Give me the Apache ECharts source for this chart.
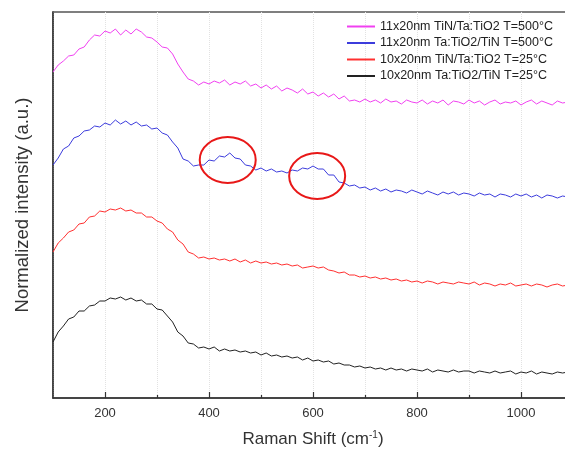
<!DOCTYPE html>
<html>
<head>
<meta charset="utf-8">
<script src="https://cdn.jsdelivr.net/npm/echarts@6/dist/echarts.min.js"></script>
<style>
  html, body { margin: 0; padding: 0; background: #fff; }
  #chart { width: 565px; height: 452px; }
</style>
</head>
<body>
<div id="chart"></div>
<script>
// Raman shift sample points (cm-1)
const ramanShift = [
  100, 110, 120, 130, 140, 150, 160, 170, 180, 190,
  200, 210, 220, 230, 240, 250, 260, 270, 280, 290,
  300, 310, 320, 330, 340, 350, 360, 370, 380, 390,
  400, 410, 420, 430, 440, 450, 460, 470, 480, 490,
  500, 510, 520, 530, 540, 550, 560, 570, 580, 590,
  600, 610, 620, 630, 640, 650, 660, 670, 680, 690,
  700, 710, 720, 730, 740, 750, 760, 770, 780, 790,
  800, 810, 820, 830, 840, 850, 860, 870, 880, 890,
  900, 910, 920, 930, 940, 950, 960, 970, 980, 990,
  1000, 1010, 1020, 1030, 1040, 1050, 1060, 1070, 1080, 1090
]

// 曲线数值（已做纵向偏移，任意单位）
const tinTa500 = [
  326, 333, 337, 342, 343, 349, 351, 358, 363, 362,
  367, 365, 369, 363, 368, 364, 369, 366, 361, 360,
  356, 351, 350, 344, 334, 326, 319, 317, 313, 316,
  314, 317, 315, 318, 313, 316, 314, 317, 312, 314,
  310, 313, 309, 312, 307, 310, 308, 305, 309, 304,
  306, 302, 305, 301, 304, 299, 302, 297, 298, 296,
  299, 296, 298, 295, 299, 296, 297, 294, 298, 296,
  295, 298, 294, 297, 295, 298, 293, 297, 296, 294,
  298, 295, 297, 293, 296, 298, 294, 296, 295, 297,
  293, 296, 298, 294, 297, 295, 293, 297, 295, 296
]
const taTin500 = [
  233, 240, 249, 252, 260, 262, 267, 268, 272, 271,
  275, 273, 278, 274, 277, 273, 276, 272, 273, 269,
  270, 265, 263, 256, 250, 239, 237, 232, 233, 233,
  238, 237, 242, 241, 245, 240, 239, 233, 232, 228,
  230, 227, 229, 226, 227, 225, 228, 227, 230, 229,
  232, 229, 229, 223, 223, 216, 215, 212, 213, 210,
  211, 208, 210, 207, 209, 206, 208, 207, 205, 208,
  206, 204, 207, 205, 203, 206, 204, 206, 203, 205,
  204, 202, 205, 203, 204, 201, 204, 203, 201, 204,
  202, 204, 201, 203, 200, 203, 202, 200, 202, 201
]
const tinTa25 = [
  146, 155, 160, 166, 168, 174, 175, 181, 182, 187,
  186, 189, 188, 190, 187, 188, 185, 185, 181, 181,
  177, 175, 169, 166, 158, 154, 146, 144, 140, 141,
  139, 140, 138, 139, 137, 139, 136, 138, 135, 137,
  135, 136, 134, 135, 133, 134, 132, 133, 130, 131,
  132, 130, 131, 128, 127, 125, 126, 123, 123, 121,
  122, 120, 121, 119, 120, 118, 119, 117, 118, 116,
  117, 115, 117, 116, 114, 116, 115, 114, 116, 115,
  114, 116, 113, 115, 114, 112, 114, 113, 115, 112,
  113, 114, 112, 114, 113, 111, 113, 114, 112, 113
]
const taTin25 = [
  56, 66, 72, 79, 81, 87, 87, 92, 93, 97,
  97, 100, 99, 101, 98, 100, 97, 98, 94, 94,
  89, 88, 82, 76, 66, 62, 55, 54, 50, 51,
  49, 51, 47, 49, 47, 48, 46, 47, 45, 46,
  43, 45, 42, 43, 41, 42, 40, 41, 38, 40,
  37, 38, 36, 37, 34, 35, 33, 33, 31, 32,
  30, 31, 29, 30, 28, 30, 28, 29, 27, 29,
  28, 27, 29, 26, 28, 27, 26, 28, 26, 27,
  27, 25, 27, 26, 25, 27, 25, 26, 27, 24,
  26, 25, 27, 24, 26, 25, 24, 26, 25, 26
]

const seriesNames = [
  '11x20nm TiN/Ta:TiO2 T=500°C',
  '11x20nm Ta:TiO2/TiN T=500°C',
  '10x20nm TiN/Ta:TiO2 T=25°C',
  '10x20nm Ta:TiO2/TiN T=25°C'
]
const seriesColors = ['#f040f0', '#3c3cdc', '#ff3030', '#222222']
const seriesValues = [tinTa500, taTin500, tinTa25, taTin25]

const majorTicks = [200, 400, 600, 800, 1000]
const minorTicks = [300, 500, 700, 900]

// 红圈标注的峰位（数据坐标）
const peakMarks = [[436, 238], [608, 222]]

const chart = echarts.init(document.getElementById('chart'))

const font = 'Liberation Sans, Arial, sans-serif'
const xRange = { min: 100, max: 1100 }

const option = {
  animation: false,
  backgroundColor: '#fff',
  grid: {
    left: 53,
    width: 520,
    top: 12,
    bottom: 54,
    outerBoundsMode: 'none',
    show: true,
    borderColor: '#555',
    borderWidth: 1.5
  },
  legend: {
    orient: 'vertical',
    left: 342,
    top: 15,
    itemGap: 3.5,
    itemWidth: 28,
    itemHeight: 2,
    icon: 'rect',
    textStyle: { fontFamily: font, fontSize: 12.5, color: '#222' },
    data: seriesNames
  },
  xAxis: [
    {
      type: 'value',
      min: xRange.min,
      max: xRange.max,
      position: 'bottom',
      name: 'Raman Shift (cm{sup|-1})',
      nameLocation: 'middle',
      nameGap: 32,
      nameTextStyle: {
        fontFamily: font,
        fontSize: 17,
        color: '#333',
        rich: {
          sup: { fontFamily: font, fontSize: 10, color: '#333', verticalAlign: 'top', padding: [0, 0, 9, 0] }
        }
      },
      axisLine: { show: true, lineStyle: { color: '#333', width: 1.5 } },
      axisTick: { show: true, inside: true, length: 6, customValues: majorTicks, lineStyle: { color: '#333', width: 1.2 } },
      axisLabel: {
        customValues: majorTicks,
        margin: 9,
        fontFamily: font,
        fontSize: 13,
        color: '#333',
        formatter: v => String(v)
      },
      splitLine: { show: false }
    },
    {
      type: 'value',
      min: xRange.min,
      max: xRange.max,
      interval: 100,
      position: 'bottom',
      axisLine: { show: false },
      axisTick: { show: false },
      axisLabel: { show: false },
      splitLine: { show: true, lineStyle: { color: '#e2e2e2', type: 'dotted', width: 1 } }
    },
    {
      type: 'value',
      min: xRange.min,
      max: xRange.max,
      position: 'bottom',
      axisLine: { show: false },
      axisTick: { show: true, inside: true, length: 3, customValues: minorTicks, lineStyle: { color: '#333', width: 1.2 } },
      axisLabel: { show: false },
      splitLine: { show: false }
    }
  ],
  yAxis: {
    type: 'value',
    min: 0,
    max: 386,
    name: 'Normalized intensity (a.u.)',
    nameLocation: 'middle',
    nameGap: 21,
    nameTextStyle: { fontFamily: font, fontSize: 18.5, color: '#333' },
    axisLine: { show: true, lineStyle: { color: '#333', width: 1.5 } },
    axisTick: { show: false },
    axisLabel: { show: false },
    splitLine: { show: false }
  },
  series: seriesNames.map((name, k) => ({
    name: name,
    type: 'line',
    xAxisIndex: 0,
    symbol: 'none',
    color: seriesColors[k],
    lineStyle: { color: seriesColors[k], width: 1 },
    data: ramanShift.map((x, i) => [x, seriesValues[k][i]])
  }))
}

chart.setOption(option)

// 红色椭圆标注
const ellipses = peakMarks.map(p => {
  const c = chart.convertToPixel({ xAxisIndex: 0, yAxisIndex: 0 }, p)
  return {
    type: 'ellipse',
    shape: { cx: c[0], cy: c[1], rx: 28, ry: 23 },
    style: { fill: 'none', stroke: '#e81818', lineWidth: 2 },
    z: 100
  }
})
chart.setOption({ graphic: ellipses })
</script>
</body>
</html>
